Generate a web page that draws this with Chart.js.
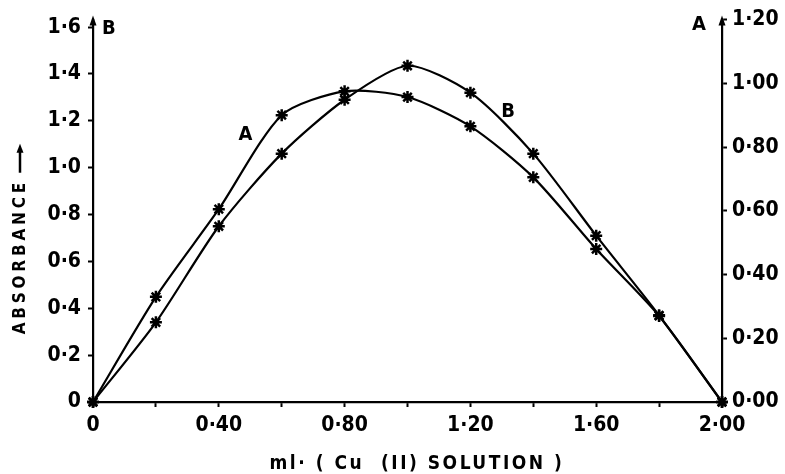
<!DOCTYPE html>
<html>
<head>
<meta charset="utf-8">
<script src="https://cdn.jsdelivr.net/npm/chart.js@4.4.1/dist/chart.umd.min.js"></script>
<style>
html,body{margin:0;padding:0;background:#fff;}
#wrap{width:785px;height:474px;position:relative;}
</style>
</head>
<body>
<div id="wrap"><canvas id="c" width="785" height="474"></canvas></div>
<script>
// ---- data ----
const volumes = [0, 0.2, 0.4, 0.6, 0.8, 1.0, 1.2, 1.4, 1.6, 1.8, 2.0];        // ml of Cu(II) solution
const absorbanceA = [0, 0.33, 0.605, 0.90, 0.975, 0.957, 0.865, 0.705, 0.48, 0.27, 0]; // right axis (A)
const absorbanceB = [0, 0.34, 0.75, 1.06, 1.29, 1.435, 1.32, 1.06, 0.71, 0.37, 0];   // left axis (B)
const xTickLabels = ['0', '', '0·40', '', '0·80', '', '1·20', '', '1·60', '', '2·00'];
const leftTickLabels = ['0', '0·2', '0·4', '0·6', '0·8', '1·0', '1·2', '1·4', '1·6'];
const rightTickLabels = ['0·00', '0·20', '0·40', '0·60', '0·80', '1·00', '1·20'];
const xTitle = 'ml· ( Cu  (II) SOLUTION )';
const yTitle = 'ABSORBANCE';

const FONT = '"DejaVu Sans Condensed", "DejaVu Sans", sans-serif';
const ptsA = volumes.map((x, i) => ({x, y: absorbanceA[i]}));
const ptsB = volumes.map((x, i) => ({x, y: absorbanceB[i]}));

const decor = {
  id: 'decor',
  afterDraw(chart) {
    const ctx = chart.ctx;
    const ca = chart.chartArea;
    const xs = chart.scales.x, yl = chart.scales.yL;
    ctx.save();
    ctx.fillStyle = '#000';
    // axis arrowheads
    [ca.left, ca.right].forEach(px => {
      ctx.beginPath();
      ctx.moveTo(px, ca.top - 4);
      ctx.lineTo(px - 3.5, ca.top + 6);
      ctx.lineTo(px + 3.5, ca.top + 6);
      ctx.closePath();
      ctx.fill();
    });
    // axis letters
    ctx.font = 'bold 20px ' + FONT;
    ctx.textBaseline = 'middle';
    ctx.textAlign = 'left';
    ctx.fillText('B', ca.left + 9, ca.top + 9);
    ctx.textAlign = 'right';
    ctx.fillText('A', ca.right - 16, ca.top + 5);
    // curve labels
    ctx.textAlign = 'center';
    ctx.fillText('A', xs.getPixelForValue(0.485), yl.getPixelForValue(1.14));
    ctx.fillText('B', xs.getPixelForValue(1.32), yl.getPixelForValue(1.24));
    // x title
    ctx.font = 'bold 19px ' + FONT;
    ctx.letterSpacing = '2.5px';
    ctx.textAlign = 'center';
    ctx.fillText(xTitle, xs.getPixelForValue(1.03), ca.bottom + 62);
    // y title (rotated)
    const yc = yl.getPixelForValue(0.62);
    ctx.save();
    ctx.translate(21, yc);
    ctx.rotate(-Math.PI / 2);
    ctx.font = 'bold 17px ' + FONT;
    ctx.letterSpacing = '3.8px';
    ctx.textAlign = 'center';
    ctx.fillText(yTitle, 0, 0);
    ctx.restore();
    // arrow after y title
    const ax = 20, ay0 = yc - 84, ay1 = yc - 113;
    ctx.lineWidth = 2.5;
    ctx.strokeStyle = '#000';
    ctx.beginPath(); ctx.moveTo(ax, ay0); ctx.lineTo(ax, ay1 + 6); ctx.stroke();
    ctx.beginPath(); ctx.moveTo(ax, ay1); ctx.lineTo(ax - 3.5, ay1 + 9); ctx.lineTo(ax + 3.5, ay1 + 9); ctx.closePath(); ctx.fill();
    ctx.restore();
  }
};

const common = {
  borderColor: '#000', backgroundColor: '#000', borderWidth: 2.2,
  pointStyle: 'star', pointRadius: 6, pointBorderWidth: 2.5, pointBorderColor: '#000',
  tension: 0.25, fill: false, clip: false
};

const tickFont = {family: FONT, size: 21, weight: 'bold'};

new Chart(document.getElementById('c'), {
  type: 'line',
  data: {
    datasets: [
      Object.assign({label: 'A', data: ptsA, yAxisID: 'yR'}, common),
      Object.assign({label: 'B', data: ptsB, yAxisID: 'yL'}, common)
    ]
  },
  options: {
    responsive: false, animation: false, devicePixelRatio: 1,
    layout: {padding: {top: 15, left: 0, right: 0, bottom: 0}},
    plugins: {legend: {display: false}, tooltip: {enabled: false}},
    scales: {
      x: {
        type: 'linear', min: 0, max: 2,
        ticks: {stepSize: 0.2, autoSkip: false, maxRotation: 0, color: '#000', padding: 6,
          font: tickFont,
          callback: (v, i) => xTickLabels[Math.round(v / 0.2)] ?? ''},
        grid: {drawOnChartArea: false, tickLength: 5, tickColor: '#000', tickWidth: 2},
        border: {display: true, color: '#000', width: 2.2},
        afterFit: s => { s.height = 72; }
      },
      yL: {
        type: 'linear', position: 'left', min: 0, max: 1.632,
        afterBuildTicks: s => { s.ticks = leftTickLabels.map((t, i) => ({value: i * 0.2})); },
        ticks: {autoSkip: false, color: '#000', padding: 7, font: tickFont,
          callback: (v) => leftTickLabels[Math.round(v / 0.2)] ?? ''},
        grid: {drawOnChartArea: false, tickLength: 5, tickColor: '#000', tickWidth: 2},
        border: {display: true, color: '#000', width: 2.2},
        afterFit: s => { s.width = 93; }
      },
      yR: {
        type: 'linear', position: 'right', min: 0, max: 1.2,
        afterBuildTicks: s => { s.ticks = rightTickLabels.map((t, i) => ({value: i * 0.2})); },
        ticks: {autoSkip: false, color: '#000', padding: 5, font: tickFont,
          callback: (v) => rightTickLabels[Math.round(v / 0.2)] ?? ''},
        grid: {drawOnChartArea: false, tickLength: 5, tickColor: '#000', tickWidth: 2},
        border: {display: true, color: '#000', width: 2.2},
        afterFit: s => { s.width = 63; }
      }
    }
  },
  plugins: [decor]
});
</script>
</body>
</html>
